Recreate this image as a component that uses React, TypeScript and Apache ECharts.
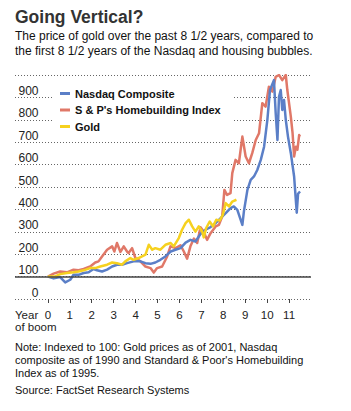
import React, { useEffect, useRef } from "react";
import * as echarts from "echarts";

const FONT = '"Liberation Sans", Arial, Helvetica, sans-serif';

const titleText = "Going Vertical?";
const subtitleText =
  "The price of gold over the past 8 1/2 years, compared to\nthe first 8 1/2 years of the Nasdaq and housing bubbles.";
const noteText =
  "Note: Indexed to 100: Gold prices as of 2001, Nasdaq\ncomposite as of 1990 and Standard & Poor's Homebuilding\nIndex as of 1995.";
const sourceText = "Source: FactSet Research Systems";
const xAxisTitle = "Year\nof boom";

const yearTicks = [0, 1, 2, 3, 4, 5, 6, 7, 8, 9, 10, 11];
const yTicks = [0, 100, 200, 300, 400, 500, 600, 700, 800, 900, 1000];

const seriesNames = ["Nasdaq Composite", "S & P's Homebuilding Index", "Gold"];
const seriesColors = ["#5b7fc7", "#e07868", "#f6d11f"];

const nasdaqYears = [0, 0.26, 0.56, 0.79, 1.02, 1.17, 1.4, 1.63, 1.86, 2.08, 2.24, 2.47, 2.7, 2.93, 3.15, 3.38, 3.61, 3.91, 4.22, 4.45, 4.68, 4.9, 5.13, 5.36, 5.6, 5.82, 6.05, 6.28, 6.5, 6.73, 6.96, 7.19, 7.42, 7.65, 7.88, 8.11, 8.33, 8.48, 8.64, 8.87, 8.94, 9.1, 9.25, 9.4, 9.55, 9.71, 9.86, 10.01, 10.13, 10.31, 10.39, 10.47, 10.54, 10.62, 10.69, 10.77, 10.85, 10.95, 11.08, 11.23, 11.35, 11.41, 11.5];
const nasdaqValues = [100, 92, 98, 74, 86, 108, 108, 116, 119, 134, 128, 123, 131, 145, 153, 153, 160, 168, 168, 160, 157, 163, 175, 190, 212, 220, 227, 252, 264, 257, 290, 310, 321, 339, 361, 383, 406, 413, 398, 331, 391, 487, 532, 547, 576, 621, 680, 800, 933, 977, 829, 710, 903, 933, 844, 888, 800, 725, 651, 547, 385, 470, 480];

const homeYears = [0, 0.26, 0.56, 0.87, 1.17, 1.4, 1.63, 1.93, 2.16, 2.31, 2.47, 2.7, 2.93, 3.03, 3.15, 3.31, 3.46, 3.61, 3.68, 3.84, 3.99, 4.22, 4.45, 4.68, 4.83, 4.98, 5.21, 5.44, 5.59, 5.82, 6.05, 6.2, 6.35, 6.5, 6.66, 6.81, 6.96, 7.11, 7.26, 7.42, 7.65, 7.8, 7.95, 8.05, 8.17, 8.33, 8.41, 8.56, 8.71, 8.87, 9.02, 9.17, 9.32, 9.48, 9.63, 9.78, 9.93, 10.08, 10.24, 10.39, 10.54, 10.69, 10.85, 10.92, 11.08, 11.16, 11.23, 11.31, 11.38, 11.46, 11.5];
const homeValues = [100, 113, 123, 119, 131, 128, 134, 145, 163, 168, 190, 220, 235, 212, 250, 210, 235, 212, 205, 227, 183, 168, 145, 138, 118, 138, 145, 190, 235, 227, 240, 212, 180, 235, 270, 250, 320, 300, 264, 294, 324, 331, 368, 487, 465, 473, 562, 621, 606, 725, 636, 606, 651, 710, 740, 874, 859, 948, 926, 992, 1000, 977, 1000, 933, 814, 740, 636, 680, 666, 732, 725];

const goldYears = [0, 0.33, 0.56, 0.87, 1.17, 1.4, 1.63, 1.93, 2.16, 2.39, 2.7, 2.93, 3.15, 3.38, 3.53, 3.76, 3.91, 4.14, 4.45, 4.6, 4.76, 4.9, 5.13, 5.36, 5.6, 5.74, 5.97, 6.12, 6.28, 6.43, 6.58, 6.73, 6.88, 7.04, 7.11, 7.22, 7.38, 7.53, 7.68, 7.83, 7.98, 8.11, 8.26, 8.41, 8.6];
const goldValues = [100, 101, 111, 116, 119, 123, 128, 138, 138, 145, 153, 163, 160, 153, 168, 183, 175, 183, 198, 242, 220, 227, 220, 242, 250, 235, 272, 309, 339, 354, 324, 301, 324, 300, 275, 317, 346, 324, 354, 350, 376, 428, 413, 435, 443];

const baselineValue = 100;

const pairs = (xs: number[], ys: number[]) => xs.map((x, i) => [x, ys[i]]);

export default function App() {
  const ref = useRef<HTMLDivElement>(null);
  useEffect(() => {
    if (!ref.current) return;
    const chart = echarts.init(ref.current, null, { renderer: "svg" });
    const lineSeries = (name: string, color: string, data: number[][], z: number) => ({
      name,
      type: "line",
      data,
      showSymbol: false,
      symbol: "none",
      z,
      lineStyle: { color, width: 2.5, join: "round" },
      itemStyle: { color },
    });
    chart.setOption({
      animation: false,
      backgroundColor: "#fff",
      textStyle: { fontFamily: FONT },
      grid: { left: 15, right: 40, top: 75, bottom: 112, containLabel: false },
      legend: {
        data: seriesNames,
        orient: "vertical",
        left: 54,
        top: 84,
        backgroundColor: "#fff",
        padding: [3, 13, 3, 6],
        itemWidth: 10,
        itemHeight: 3,
        itemGap: 3.5,
        icon: "rect",
        textStyle: { fontSize: 11, fontWeight: "bold", color: "#111", fontFamily: FONT, lineHeight: 13 },
      },
      xAxis: {
        type: "value",
        min: -1.5,
        max: 12,
        axisLine: { show: false },
        splitLine: { show: false },
        axisTick: { show: true, length: 4, customValues: yearTicks, lineStyle: { color: "#444" } },
        axisLabel: { customValues: yearTicks, fontSize: 11.5, color: "#222", margin: 10, fontFamily: FONT },
      },
      yAxis: {
        type: "value",
        min: 0,
        max: 1000,
        interval: 100,
        axisLine: { show: false },
        axisTick: { show: false },
        splitLine: { show: true, lineStyle: { color: "#666", type: [1, 2], width: 1 } },
        axisLabel: {
          inside: true,
          align: "right",
          verticalAlign: "bottom",
          margin: 23.5,
          fontSize: 12,
          lineHeight: 13,
          color: "#222",
          fontFamily: FONT,
          customValues: yTicks.filter((v) => v < 1000),
        },
      },
      series: [
        {
          name: "baseline",
          type: "line",
          data: [],
          z: 1,
          markLine: {
            silent: true,
            symbol: "none",
            label: { show: false },
            lineStyle: { color: "#444", type: "solid", width: 1.5 },
            data: [{ yAxis: baselineValue }],
          },
        },
        lineSeries(seriesNames[1], seriesColors[1], pairs(homeYears, homeValues), 2),
        lineSeries(seriesNames[0], seriesColors[0], pairs(nasdaqYears, nasdaqValues), 3),
        lineSeries(seriesNames[2], seriesColors[2], pairs(goldYears, goldValues), 4),
      ],
      graphic: [
        {
          type: "text",
          x: 15,
          y: 17,
          style: { text: titleText, font: `bold 17.5px ${FONT}`, fill: "#333", verticalAlign: "middle" },
        },
        {
          type: "text",
          x: 15,
          y: 28.5,
          style: { text: subtitleText, font: `12px ${FONT}`, lineHeight: 15, fill: "#111", verticalAlign: "top" },
        },
        {
          type: "text",
          x: 15,
          y: 309,
          style: { text: xAxisTitle, font: `11.5px ${FONT}`, lineHeight: 12, fill: "#222", verticalAlign: "top" },
        },
        {
          type: "text",
          x: 15,
          y: 340,
          style: { text: noteText, font: `11px ${FONT}`, lineHeight: 13, fill: "#111", verticalAlign: "top" },
        },
        {
          type: "text",
          x: 15,
          y: 384,
          style: { text: sourceText, font: `11px ${FONT}`, fill: "#111", verticalAlign: "top" },
        },
      ],
    });
    return () => chart.dispose();
  }, []);
  return (
    <div
      ref={ref}
      style={{ position: "fixed", left: 0, top: 0, width: 351, height: 411, background: "#fff" }}
    />
  );
}
